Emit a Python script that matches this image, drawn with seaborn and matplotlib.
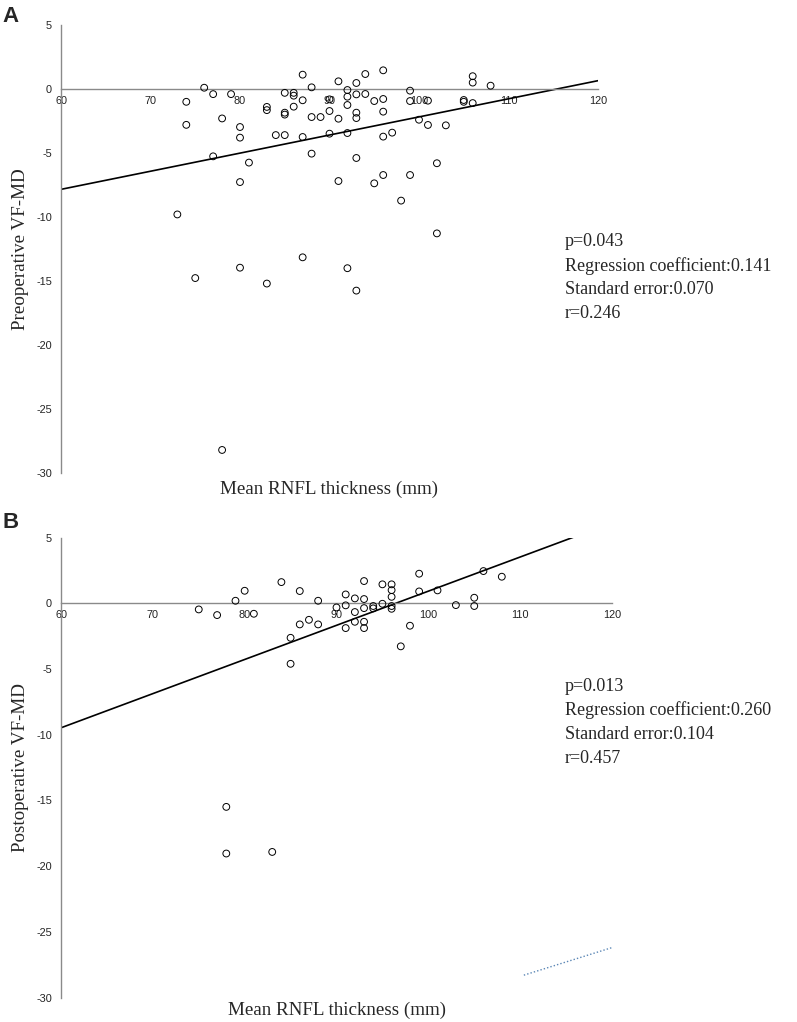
import matplotlib
matplotlib.use("Agg")
import matplotlib.pyplot as plt
import seaborn as sns
import pandas as pd

sns.set_style("white")
plt.rcParams['font.family'] = ['Liberation Sans', 'DejaVu Sans']

# ---------------- data ----------------
pre_rnfl = [74, 74, 76, 77, 78, 79, 77, 80, 80, 81, 80, 73, 83, 83, 84, 85, 85, 85, 85,
            86, 86, 86, 87, 87, 87, 88, 88, 88, 89, 87, 90, 90, 90, 91, 91, 91,
            92, 92, 92, 92, 92, 93, 93, 93, 93, 93, 93, 94, 94, 95, 95,
            96, 96, 96, 96, 96, 97, 98, 99, 99, 99, 100, 101, 101, 102, 102, 103,
            105, 105, 106, 106, 106, 108, 75, 80, 83, 78]
pre_vfmd = [-1.0, -2.8, 0.1, -0.4, -2.3, -0.4, -5.26, -2.97, -3.8, -5.75, -7.27, -9.8, -1.4, -1.65,
            -3.6, -0.3, -1.85, -2.0, -3.6, -0.3, -0.52, -1.38, 1.12, -0.88, -3.75, 0.13, -2.19,
            -5.05, -2.19, -13.15, -0.81, -1.72, -3.49, 0.6, -2.32, -7.19,
            -0.08, -0.6, -1.25, -3.44, -14.0, 0.47, -0.42, -1.85, -2.27, -5.39, -15.75, 1.17, -0.39,
            -0.94, -7.37, 1.46, -0.78, -1.77, -3.72, -6.72, -3.41, -8.72, -0.13, -0.94, -6.72, -2.4,
            -0.91, -2.81, -5.8, -11.28, -2.84, -0.86, -1.0, 1.0, 0.5, -1.1, 0.26,
            -14.77, -13.96, -15.2, -28.2]

post_rnfl = [75, 77, 79, 80, 81, 84, 85, 85, 86, 86, 87, 88, 88, 90, 91, 91, 91, 92, 92, 92,
             93, 93, 93, 93, 93, 94, 94, 95, 95, 96, 96, 96, 96, 96, 97, 98, 99, 99, 101, 103,
             105, 105, 106, 108, 78, 78, 83]
post_vfmd = [-0.46, -0.89, 0.2, 0.96, -0.79, 1.62, -2.62, -4.6, 0.94, -1.6, -1.25, 0.2, -1.6,
             -0.31, 0.68, -0.15, -1.88, 0.38, -0.66, -1.4, 1.7, 0.33, -0.36, -1.4, -1.88, -0.2,
             -0.38, 1.45, -0.03, 1.45, 1.01, 0.5, -0.2, -0.41, -3.27, -1.7, 2.26, 0.91, 0.99,
             -0.13, 0.43, -0.2, 2.46, 2.03, -15.49, -19.04, -18.92]

pre_fit_intercept, pre_fit_slope = -16.33, 0.1415
post_fit_intercept, post_fit_slope = -25.07, 0.26
post_dotted_x = [110.4, 120.0]
post_dotted_y = [-28.3, -26.2]

pre_stats = ["p=0.043", "Regression coefficient:0.141", "Standard error:0.070", "r=0.246"]
post_stats = ["p=0.013", "Regression coefficient:0.260", "Standard error:0.104", "r=0.457"]

x_ticks = [60, 70, 80, 90, 100, 110, 120]
y_ticks = [5, 0, -5, -10, -15, -20, -25, -30]
x_label = "Mean RNFL thickness (mm)"
pre_ylabel = "Preoperative VF-MD"
post_ylabel = "Postoperative VF-MD"

# ---------------- figure ----------------
W, H = 797, 1022
fig = plt.figure(figsize=(W / 100, H / 100), dpi=100)

SERIF = ['Liberation Serif', 'DejaVu Serif']
AXC = '#8a8a8a'


def style_axis(ax):
    ax.set_xlim(60, 120)
    ax.set_ylim(-30, 5)
    ax.set_xticks(x_ticks)
    ax.set_yticks(y_ticks)
    ax.set_xticklabels([str(t) for t in x_ticks])
    ax.set_yticklabels([str(t) for t in y_ticks])
    for s in ['top', 'right']:
        ax.spines[s].set_visible(False)
    ax.spines['bottom'].set_position(('data', 0))
    for s in ['bottom', 'left']:
        ax.spines[s].set_color(AXC)
        ax.spines[s].set_linewidth(1.0)
    ax.tick_params(axis='x', direction='in', length=3, width=1, color=AXC,
                   labelsize=7.8, pad=5, labelcolor='#222222')
    ax.tick_params(axis='y', direction='out', length=3.5, width=1, color=AXC,
                   labelsize=7.8, pad=3, labelcolor='#222222')
    ax.set_xlabel("")
    ax.set_ylabel("")
    ax.patch.set_alpha(0)


def panel(ax, xs, ys, a, b):
    df = pd.DataFrame({"rnfl": xs, "vfmd": ys})
    sns.scatterplot(data=df, x="rnfl", y="vfmd", ax=ax, s=24, marker='o',
                    facecolor='none', edgecolor='black', linewidth=0.7, zorder=3)
    fit = pd.DataFrame({"rnfl": [60, 120], "vfmd": [a + b * 60, a + b * 120]})
    sns.lineplot(data=fit, x="rnfl", y="vfmd", ax=ax, color='black', linewidth=1.2, zorder=2)
    style_axis(ax)


axA = fig.add_axes([61 / W, 1 - 473 / H, 537 / W, 448 / H])
panel(axA, pre_rnfl, pre_vfmd, pre_fit_intercept, pre_fit_slope)

axB = fig.add_axes([61 / W, 1 - 997.5 / H, 551 / W, 459.8 / H])
panel(axB, post_rnfl, post_vfmd, post_fit_intercept, post_fit_slope)
dd = pd.DataFrame({"x": post_dotted_x, "y": post_dotted_y})
sns.lineplot(data=dd, x="x", y="y", ax=axB, color='#5a86b5', linewidth=1.0,
             linestyle=(0, (1, 1.5)), clip_on=False)
axB.set_xlabel("")
axB.set_ylabel("")

# labels
fs = 13.7
fs_stats = 13.0
fig.text(21 / W, 1 - 249 / H, pre_ylabel, rotation=90, ha='center', va='center',
         family=SERIF, size=fs)
fig.text(21 / W, 1 - 767.6 / H, post_ylabel, rotation=90, ha='center', va='center',
         family=SERIF, size=fs)
fig.text(329.5 / W, 1 - 489 / H, x_label, ha='center', va='center', family=SERIF, size=fs)
fig.text(336.5 / W, 1 - 1010 / H, x_label, ha='center', va='center', family=SERIF, size=fs)

for i, line in enumerate(pre_stats):
    fig.text(565 / W, 1 - (242 + 24 * i) / H, line, ha='left', va='center',
             family=SERIF, size=fs_stats)
for i, line in enumerate(post_stats):
    fig.text(565 / W, 1 - (686 + 24 * i) / H, line, ha='left', va='center',
             family=SERIF, size=fs_stats)

fig.text(2 / W, 1 - 16 / H, "A", ha='left', va='center', weight='bold', size=16)
fig.text(2 / W, 1 - 522 / H, "B", ha='left', va='center', weight='bold', size=16)

fig.savefig("out.png", dpi=100)
